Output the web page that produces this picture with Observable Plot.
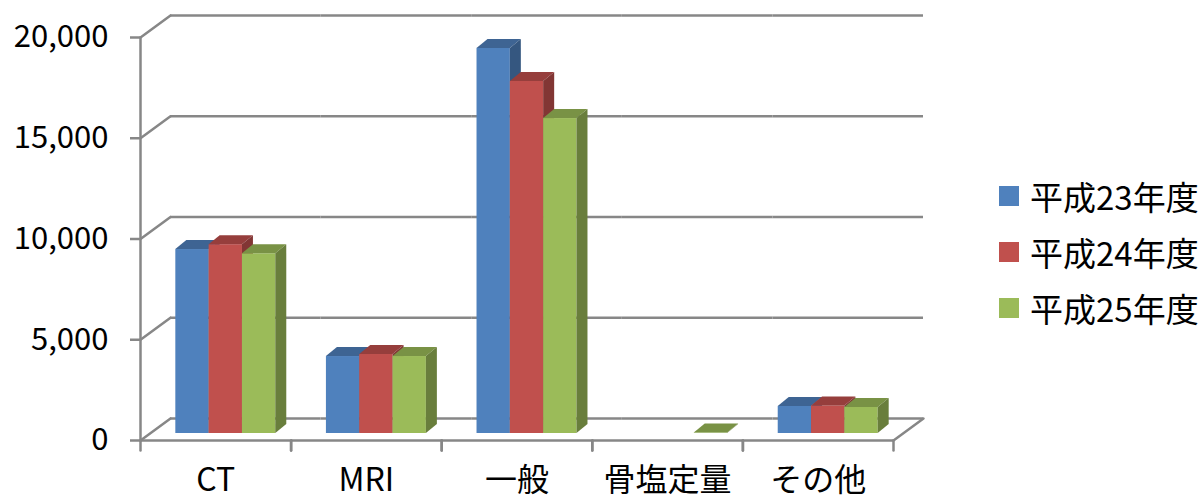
<!DOCTYPE html>
<html>
<head>
<meta charset="utf-8">
<script src="https://cdn.jsdelivr.net/npm/d3@7"></script>
<script src="https://cdn.jsdelivr.net/npm/@observablehq/plot@0.6"></script>
<style>
  html, body { margin: 0; padding: 0; background: #fff; overflow: hidden; }
  #wrap { position: relative; width: 1203px; height: 499px; font-family: "Noto Sans CJK JP", sans-serif; }
  #legend { position: absolute; left: 999px; top: 0; }
  .item { position: absolute; left: 0; height: 40px; display: flex; align-items: center; white-space: nowrap; font-size: 33px; line-height: 1; color: #000; }
  .sw { width: 20px; height: 20px; margin-right: 11px; flex: none; }
</style>
</head>
<body>
<div id="wrap"><div id="chart"></div><div id="legend"></div></div>
<script>
// ---- data ----
const categories = ["CT", "MRI", "一般", "骨塩定量", "その他"];
const series = ["平成23年度", "平成24年度", "平成25年度"];
const h23 = [9130, 3820, 19110, 0, 1340];
const h24 = [9370, 3920, 17470, 0, 1370];
const h25 = [8920, 3820, 15630, 20, 1290];
const colors = ["#4F81BD", "#C0504D", "#9BBB59"];
const yTicks = [0, 5000, 10000, 15000, 20000];

const table = [];
[h23, h24, h25].forEach((vals, s) =>
  vals.forEach((v, i) => table.push({category: categories[i], series: series[s], value: v}))
);

// ---- layout & 3D styling constants ----
const W = 960, H = 499, ML = 140, MR = 67, MT = 37, MB = 59;
const grey = "#878787";
const lw = 2.5;
const WALL_DX = 30, WALL_DY = 22;      // depth of the back wall
const FACE_DX = 11, FACE_DY = 9;       // depth of each bar
const wallLen = Math.hypot(WALL_DX, WALL_DY);
const wallAngle = Math.atan2(WALL_DX, WALL_DY) * 180 / Math.PI;
const segment = {draw(ctx, l) { ctx.moveTo(0, 0); ctx.lineTo(0, -l); }};

function extrude(index, scales, values, dimensions, context, next) {
  const g = next(index, scales, values, dimensions, context);
  const ns = "http://www.w3.org/2000/svg";
  for (const rect of Array.from(g.querySelectorAll("rect"))) {
    const x = +rect.getAttribute("x"), y = +rect.getAttribute("y");
    const w = +rect.getAttribute("width"), h = +rect.getAttribute("height");
    if (!(h > 0)) continue;
    const c = d3.color(rect.getAttribute("fill") || "#999");
    const top = document.createElementNS(ns, "path");
    top.setAttribute("d", `M${x},${y}h${w}l${FACE_DX},${-FACE_DY}h${-w}z`);
    top.setAttribute("fill", c.darker(0.7).formatHex());
    const side = document.createElementNS(ns, "path");
    side.setAttribute("d", `M${x + w},${y}l${FACE_DX},${-FACE_DY}v${h}l${-FACE_DX},${FACE_DY}z`);
    side.setAttribute("fill", c.darker(1.1).formatHex());
    rect.after(top, side);
  }
  return g;
}

const plot = Plot.plot({
  width: W,
  height: H,
  marginLeft: ML,
  marginRight: MR,
  marginTop: MT,
  marginBottom: MB,
  style: {fontFamily: '"Noto Sans CJK JP", sans-serif', background: "white", overflow: "visible"},
  fx: {domain: categories, padding: 0, round: false},
  x: {domain: series, paddingInner: 0, paddingOuter: 0.76, round: false, axis: null},
  y: {domain: [0, 20000]},
  color: {domain: series, range: colors},
  marks: [
    // back wall gridlines
    Plot.ruleY(yTicks, {dx: WALL_DX, dy: -WALL_DY, stroke: grey, strokeWidth: lw}),
    // side wall diagonals
    Plot.vector(yTicks, {y: d => d, frameAnchor: "left", facetAnchor: "left", length: wallLen, rotate: wallAngle,
      anchor: "start", shape: segment, stroke: grey, strokeWidth: lw}),
    // floor right diagonal
    Plot.vector([0], {y: d => d, frameAnchor: "right", facetAnchor: "right", length: wallLen, rotate: wallAngle,
      anchor: "start", shape: segment, stroke: grey, strokeWidth: lw}),
    // floor front edge
    Plot.ruleY([0], {stroke: grey, strokeWidth: lw}),
    // front vertical axis line (from 0 up to the top of the frame)
    Plot.vector([0], {y: d => d, frameAnchor: "left", facetAnchor: "left", length: H - MT - MB, rotate: 0,
      anchor: "start", shape: segment, stroke: grey, strokeWidth: lw}),
    // category boundary ticks
    Plot.vector([0], {y: d => d, frameAnchor: "left", length: 10, rotate: 180, anchor: "start", shape: segment, stroke: grey, strokeWidth: lw}),
    Plot.vector([0], {y: d => d, frameAnchor: "right", length: 10, rotate: 180, anchor: "start", shape: segment, stroke: grey, strokeWidth: lw}),
    Plot.axisY({ticks: yTicks, tickSize: 10, tickPadding: 22, tickFormat: d3.format(","), stroke: grey, strokeWidth: lw,
      fill: "black", fontSize: 31, label: null}),
    Plot.axisFx({anchor: "bottom", tickSize: 0, tickPadding: 28, fontSize: 32, fill: "black", label: null}),
    Plot.barY(table, {fx: "category", x: "series", y: "value", fill: "series", dx: 10, dy: -7, render: extrude})
  ]
});
document.getElementById("chart").append(plot);

// legend
const legend = document.getElementById("legend");
series.forEach((s, i) => {
  const item = document.createElement("div");
  item.className = "item";
  item.style.top = (176 + i * 56) + "px";
  const sw = document.createElement("div");
  sw.className = "sw";
  sw.style.background = colors[i];
  const t = document.createElement("span");
  t.textContent = s;
  item.append(sw, t);
  legend.append(item);
});
</script>
</body>
</html>
